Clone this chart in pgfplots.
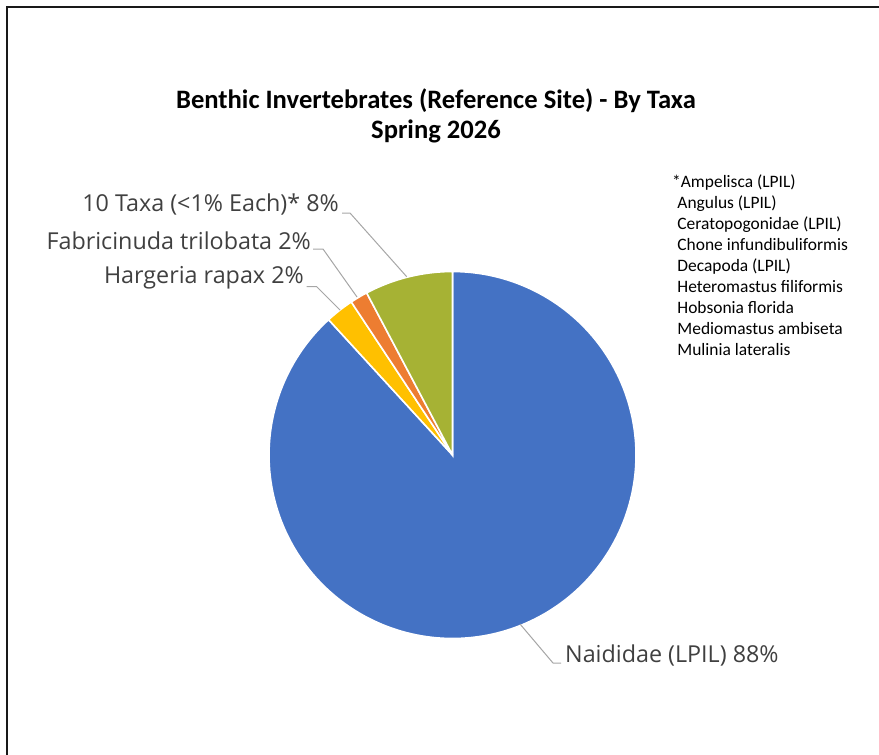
\documentclass[border=0pt]{standalone}
\usepackage{pgfplots}
\usepackage{pgfplotstable}
\pgfplotsset{compat=1.18}
\usepgfplotslibrary{polar}
\usepackage{fontspec}
\setmainfont{Carlito}
\newfontfamily\labfont{Open Sans}
\definecolor{cNai}{HTML}{4472C4}
\definecolor{cHar}{HTML}{FFC000}
\definecolor{cFab}{HTML}{ED7D31}
\definecolor{cTax}{RGB}{166,178,52}
\definecolor{labgray}{HTML}{404040}
\definecolor{leadgray}{HTML}{A6A6A6}

\pgfplotstableread{
taxon value
Naididae 88.2
Hargeria 2.5
Fabricinuda 1.55
Taxa10 7.75
}\piedata

\begin{document}
\begin{tikzpicture}[x=1bp,y=1bp]
\useasboundingbox (0,0) rectangle (879,-755);
% frame
\draw[line width=2bp,black!90] (7,-755) -- (7,-7) -- (879,-7);
% angles from data (clockwise from top)
\pgfplotstablegetelem{0}{value}\of\piedata \edef\vA{\pgfplotsretval}
\pgfplotstablegetelem{1}{value}\of\piedata \edef\vB{\pgfplotsretval}
\pgfplotstablegetelem{2}{value}\of\piedata \edef\vC{\pgfplotsretval}
\pgfplotstablegetelem{3}{value}\of\piedata \edef\vD{\pgfplotsretval}
\pgfmathsetmacro\aA{90}
\pgfmathsetmacro\aB{90-3.6*\vA}
\pgfmathsetmacro\aC{\aB-3.6*\vB}
\pgfmathsetmacro\aD{\aC-3.6*\vC}
\pgfmathsetmacro\aE{\aD-3.6*\vD}
\begin{polaraxis}[
  at={(452.5bp,-455bp)}, anchor=center,
  width=367bp, height=367bp, scale only axis,
  hide axis, clip=false,
  ymin=0, ymax=1,
]
\addplot[fill=cNai, draw=white, line width=1.6bp, domain=\aB:\aA, samples=200] {1} -- (axis cs:0,0) -- cycle;
\addplot[fill=cHar, draw=white, line width=1.6bp, domain=\aC:\aB, samples=20] {1} -- (axis cs:0,0) -- cycle;
\addplot[fill=cFab, draw=white, line width=1.6bp, domain=\aD:\aC, samples=20] {1} -- (axis cs:0,0) -- cycle;
\addplot[fill=cTax, draw=white, line width=1.6bp, domain=\aE:\aD, samples=40] {1} -- (axis cs:0,0) -- cycle;
\end{polaraxis}
% title
\node[font=\bfseries\fontsize{26.7}{30}\selectfont, align=center, anchor=center] at (436,-116) {Benthic Invertebrates (Reference Site) - By Taxa\\Spring 2026};
% leader lines
\draw[leadgray, line width=1bp] (342,-213) -- (350,-213) -- (406.7,-276.7);
\draw[leadgray, line width=1bp] (313,-249) -- (323,-249) -- (357,-297);
\draw[leadgray, line width=1bp] (306.7,-286.7) -- (316.7,-286.7) -- (340,-310);
\draw[leadgray, line width=1bp] (520,-624) -- (553,-663) -- (561,-663);
% data labels
\begin{scope}[every node/.style={font=\labfont\fontsize{23.4}{28}\selectfont, text=labgray, inner sep=0pt}]
\node[anchor=east] at (339,-204) {10 Taxa (<1\% Each)* 8\%};
\node[anchor=east] at (311,-241) {Fabricinuda trilobata 2\%};
\node[anchor=east] at (304,-278) {Hargeria rapax 2\%};
\node[anchor=west] at (565,-655) {Naididae (LPIL) 88\%};
\end{scope}
% footnote list
\node[anchor=north west, align=left, inner sep=0pt, font=\fontsize{17.5}{21}\selectfont] at (672,-175) {*Ampelisca (LPIL)\\
\hspace*{0.3em}Angulus (LPIL)\\
\hspace*{0.3em}Ceratopogonidae (LPIL)\\
\hspace*{0.3em}Chone infundibuliformis\\
\hspace*{0.3em}Decapoda (LPIL)\\
\hspace*{0.3em}Heteromastus filiformis\\
\hspace*{0.3em}Hobsonia florida\\
\hspace*{0.3em}Mediomastus ambiseta\\
\hspace*{0.3em}Mulinia lateralis};
\end{tikzpicture}
\end{document}
